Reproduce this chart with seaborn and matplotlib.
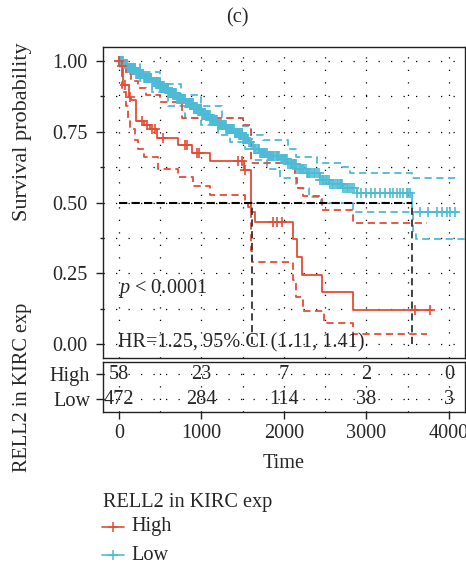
import matplotlib
matplotlib.use("Agg")
import matplotlib.pyplot as plt
import seaborn as sns
import numpy as np
import pandas as pd
from matplotlib.lines import Line2D

# ---------------- data ----------------
groups = ["High", "Low"]
colors = {"High": "#E64B35", "Low": "#4DBBD5"}

high_t = [0, 20, 53, 125, 150, 206, 300, 380, 457, 718, 881, 1103, 1510, 1600, 1645, 2105, 2155, 2225, 2457, 2835, 3800]
high_s = [1.0, 0.983, 0.915, 0.874, 0.862, 0.786, 0.775, 0.76, 0.727, 0.703, 0.674, 0.648, 0.615, 0.467, 0.432, 0.370, 0.308, 0.245, 0.185, 0.122, 0.122]
high_up_t = [0, 40, 80, 150, 230, 330, 500, 760, 1500, 1600, 2130, 2154, 2234, 2457, 2840, 3730]
high_up_s = [1.0, 0.985, 0.955, 0.93, 0.905, 0.88, 0.856, 0.797, 0.774, 0.638, 0.585, 0.55, 0.523, 0.473, 0.426, 0.426]
high_lo_t = [0, 10, 40, 85, 110, 140, 200, 230, 300, 470, 720, 900, 1100, 1530, 1570, 1600, 1612, 2110, 2150, 2230, 2480, 2840, 3730]
high_lo_s = [1.0, 0.97, 0.89, 0.84, 0.80, 0.76, 0.72, 0.69, 0.66, 0.62, 0.59, 0.56, 0.527, 0.50, 0.485, 0.33, 0.291, 0.226, 0.167, 0.118, 0.073, 0.035, 0.035]
high_censor = [5, 36, 73, 133, 275, 335, 396, 436, 537, 800, 820, 942, 973, 1446, 1487, 1527, 1863, 1911, 1972, 3588, 3770]

low_t = [0, 50, 100, 200, 300, 400, 500, 600, 700, 800, 900, 1000, 1100, 1200, 1300, 1400, 1500, 1570, 1620, 1700, 1800, 1950, 2050, 2150, 2275, 2440, 2550, 2715, 2880, 3555, 4110]
low_s = [1.0, 0.99, 0.975, 0.955, 0.94, 0.925, 0.905, 0.885, 0.865, 0.85, 0.83, 0.81, 0.79, 0.775, 0.76, 0.745, 0.725, 0.715, 0.69, 0.675, 0.665, 0.655, 0.635, 0.62, 0.603, 0.58, 0.565, 0.55, 0.532, 0.467, 0.467]
low_up_t = [0, 100, 250, 500, 750, 1000, 1250, 1500, 1600, 1750, 2050, 2150, 2400, 2700, 2800, 3555, 4090]
low_up_s = [1.0, 0.99, 0.96, 0.92, 0.88, 0.84, 0.80, 0.77, 0.74, 0.72, 0.69, 0.66, 0.64, 0.625, 0.605, 0.585, 0.585]
low_lo_t = [0, 100, 250, 400, 600, 800, 1000, 1200, 1350, 1530, 1600, 1800, 1950, 2150, 2300, 2450, 2840, 3560, 3600, 4200]
low_lo_s = [1.0, 0.975, 0.93, 0.89, 0.84, 0.80, 0.775, 0.74, 0.715, 0.69, 0.65, 0.62, 0.585, 0.55, 0.52, 0.50, 0.467, 0.40, 0.37, 0.37]
low_censor = [3, 12, 20, 28, 35, 41, 49, 58, 66, 74, 83, 90, 97, 104, 112, 119, 126, 133, 142, 151, 158, 166, 174, 182, 189, 197,
              205, 213, 222, 231, 238, 246, 255, 263, 271, 279, 288, 297, 304, 311, 318, 326, 334, 343, 352, 361, 368, 376, 385,
              393, 402, 411, 419, 427, 436, 444, 452, 461, 470, 479, 486, 494, 503, 513, 521, 529, 538, 547, 556, 565, 573, 581,
              589, 597, 606, 616, 623, 631, 641, 651, 659, 667, 676, 685, 693, 701, 710, 719, 728, 737, 746, 756, 763, 771, 781,
              791, 799, 807, 817, 827, 835, 844, 853, 863, 871, 879, 889, 899, 906, 914, 925, 936, 943, 951, 961, 971, 980, 989,
              999, 1009, 1016, 1024, 1035, 1046, 1053, 1061, 1071, 1081, 1090, 1099, 1109, 1119, 1126, 1134, 1145, 1156, 1163,
              1171, 1181, 1191, 1200, 1209, 1219, 1229, 1236, 1244, 1255, 1266, 1274, 1283, 1292, 1301, 1310, 1319, 1329, 1339,
              1346, 1354, 1365, 1376, 1383, 1391, 1401, 1411, 1420, 1429, 1439, 1449, 1456, 1464, 1475, 1486, 1493, 1501, 1511,
              1521, 1530, 1539, 1548, 1557, 1566, 1576, 1590, 1632, 1648, 1665, 1681, 1697, 1712, 1722, 1731, 1742, 1752, 1760,
              1769, 1780, 1791, 1803, 1816, 1829, 1842, 1855, 1868, 1885, 1901, 1915, 1928, 1945, 1962, 1973, 1984, 1998, 2012,
              2025, 2038, 2055, 2071, 2085, 2098, 2110, 2122, 2135, 2148, 2162, 2177, 2189, 2201, 2215, 2229, 2245, 2262, 2275,
              2288, 2305, 2321, 2340, 2362, 2380, 2398, 2420, 2441, 2462, 2475, 2489, 2505, 2522, 2541, 2561, 2580, 2598, 2620,
              2641, 2660, 2680, 2691, 2702, 2722, 2741, 2760, 2782, 2800, 2820, 2850, 2880, 2940, 3000, 3060, 3100, 3165, 3224,
              3285, 3325, 3366, 3406, 3446, 3487, 3507, 3530, 3648, 3750, 3851, 3912, 3972, 4012, 4073]

medians = {"High": 1608, "Low": 3555}

risk_times = [0, 1000, 2000, 3000, 4000]
risk_high = [58, 23, 7, 2, 0]
risk_low = [472, 284, 114, 38, 3]

xticks = [0, 1000, 2000, 3000, 4000]
yticks = [0.00, 0.25, 0.50, 0.75, 1.00]
ytick_labels = ["0.00", "0.25", "0.50", "0.75", "1.00"]

# ---------------- style ----------------
sns.set_theme(style="white")
FONT = ["Liberation Serif", "DejaVu Serif"]
plt.rcParams["font.family"] = FONT
plt.rcParams["mathtext.fontset"] = "custom"
plt.rcParams["mathtext.it"] = "Liberation Serif:italic"
plt.rcParams["mathtext.rm"] = "Liberation Serif"
FS = 14.6

W, H = 466, 565
fig = plt.figure(figsize=(W / 100, H / 100), dpi=100)
fig.patch.set_facecolor("white")


def fx(px):
    return px / W


def fy(py):
    return 1 - py / H


ax = fig.add_axes([fx(102.7), fy(358.3), fx(465) - fx(102.7), fy(46.7) - fy(358.3)])
tab = fig.add_axes([fx(102.7), fy(411.7), fx(465) - fx(102.7), fy(361.7) - fy(411.7)])

XL = (-197, 4195)
grid_kw = dict(color="black", linestyle=(0, (1, 9)), linewidth=0.9, zorder=0)

for a in (ax, tab):
    a.set_facecolor("white")
    for sp in a.spines.values():
        sp.set_color("#222222")
        sp.set_linewidth(1.0)
    a.set_xlim(*XL)
    for gx in np.arange(0, 4001, 500):
        a.axvline(gx, **grid_kw)

for gy in np.arange(0, 1.001, 0.125):
    ax.axhline(gy, **grid_kw)

lw = 1.3
dash = (0, (4, 2.5))
marker_size = {"High": 45, "Low": 60}


def draw(name, t, s, ut, us, lt, ls, cens):
    c = colors[name]
    sns.lineplot(x=t, y=s, drawstyle="steps-post", color=c, lw=lw, ax=ax, estimator=None, sort=False, zorder=3)
    sns.lineplot(x=ut, y=us, drawstyle="steps-post", color=c, lw=lw, ax=ax, estimator=None, sort=False,
                 linestyle=dash, zorder=2)
    sns.lineplot(x=lt, y=ls, drawstyle="steps-post", color=c, lw=lw, ax=ax, estimator=None, sort=False,
                 linestyle=dash, zorder=2)
    idx = np.searchsorted(np.array(t), np.array(cens), side="right") - 1
    cy = np.array(s)[idx]
    sns.scatterplot(x=cens, y=cy, marker="+", s=marker_size[name], color=c, linewidth=1.2, ax=ax, zorder=4,
                    legend=False)


draw("Low", low_t, low_s, low_up_t, low_up_s, low_lo_t, low_lo_s, low_censor)
draw("High", high_t, high_s, high_up_t, high_up_s, high_lo_t, high_lo_s, high_censor)

# median lines
med_kw = dict(color="black", linewidth=1.5, linestyle=(0, (4, 2)), zorder=5)
ax.plot([0, max(medians.values())], [0.5, 0.5], **med_kw)
for g in groups:
    ax.plot([medians[g], medians[g]], [0, 0.5], color="#333333", linewidth=1.3, linestyle=(0, (4, 2.5)), zorder=5)

ax.set_ylim(-0.05, 1.05)
ax.set_yticks(yticks)
ax.set_yticklabels(ytick_labels, fontsize=FS)
ax.set_yticks(np.arange(0.125, 1.0, 0.25), minor=True)
ax.set_xticks(xticks)
ax.set_xticklabels([])
ax.tick_params(axis="x", length=0)
ax.tick_params(axis="y", which="major", length=5, width=1, color="#222222", left=True, direction="out", pad=6)
ax.tick_params(axis="y", which="minor", length=2.5, width=1, color="#222222", left=True, direction="out")
ax.set_ylabel("")
ax.set_xlabel("")

ax.text(-10, 0.197, r"$\it{p}$ < 0.0001", fontsize=FS, ha="left", va="center", zorder=6)
ax.text(-10, 0.003, "HR=1.25, 95% CI (1.11, 1.41)", fontsize=FS, ha="left", va="center", zorder=6)

# risk table
tab.set_ylim(0.5, 2.5)
for gy in (1, 2):
    tab.axhline(gy, **grid_kw)
for tt, n in zip(risk_times, risk_high):
    tab.text(tt, 2, str(n), ha="center", va="center", fontsize=FS, zorder=5)
for tt, n in zip(risk_times, risk_low):
    tab.text(tt, 1, str(n), ha="center", va="center", fontsize=FS, zorder=5)
tab.set_yticks([2, 1])
tab.set_yticklabels(["High", "Low"], fontsize=FS)
tab.set_xticks(xticks)
tab.set_xticklabels([str(v) for v in xticks], fontsize=FS)
tab.tick_params(axis="both", length=5, width=1, color="#222222", direction="out", left=True, bottom=True, pad=4)
tab.set_xlabel("")
tab.set_ylabel("")

# axis titles
fig.text(fx(23), fy(131.5), "Survival probability", rotation=90, ha="center", va="center", fontsize=16)
fig.text(fx(23), fy(387), "RELL2 in KIRC exp", rotation=90, ha="center", va="center", fontsize=FS)
fig.text(fx(284), fy(464), "Time", ha="center", va="center", fontsize=FS)

# title
fig.text(fx(237), fy(18), "(c)", ha="center", va="center", fontsize=FS)

# legend (drawn manually in figure coordinates)
fig.text(fx(103), fy(502), "RELL2 in KIRC exp", ha="left", va="center", fontsize=FS)
for g, py in zip(groups, [527, 555]):
    fig.add_artist(Line2D([fx(102), fx(124)], [fy(py), fy(py)], color=colors[g], lw=1.2))
    fig.add_artist(Line2D([fx(113)], [fy(py)], color=colors[g], marker="+", markersize=7, markeredgewidth=1.1))
    fig.text(fx(131), fy(py), g, ha="left", va="center", fontsize=FS)

fig.savefig("out.png", dpi=100, facecolor="white")
